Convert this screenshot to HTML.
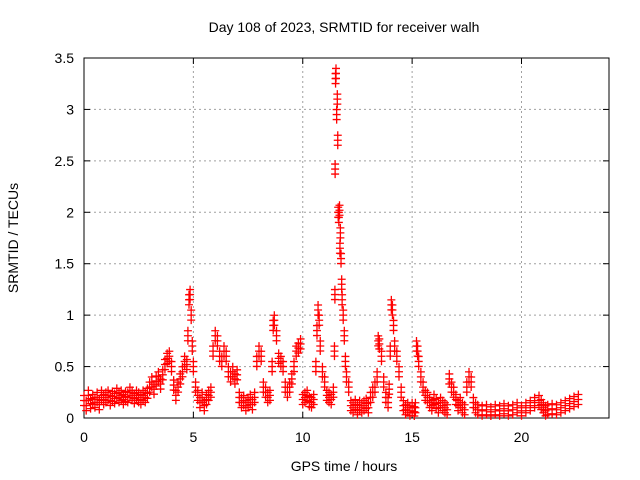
<!DOCTYPE html>
<html><head><meta charset="utf-8"><style>
body{margin:0;background:#fff}
svg{display:block;font-family:"Liberation Sans",sans-serif}
</style></head><body>
<svg id="chart" width="640" height="480">
<text x="344" y="32" font-size="14" text-anchor="middle">Day 108 of 2023, SRMTID for receiver walh</text>
<g id="grid"></g>
<rect x="84" y="58" width="525" height="360" fill="none" stroke="#000"/>
<g id="ticks"></g>
<g id="marks"></g>
<text x="344" y="471" font-size="14" text-anchor="middle">GPS time / hours</text>
<text x="18" y="238" font-size="14" text-anchor="middle" transform="rotate(-90 18 238)">SRMTID / TECUs</text>
</svg>
<script>
const xTicks=[0,5,10,15,20];
const yTicks=[0,0.5,1,1.5,2,2.5,3,3.5];
const yTickLabels=["0","0.5","1","1.5","2","2.5","3","3.5"];
const times=[0,0.1,0.2,0.3,0.4,0.5,0.6,0.7,0.8,0.9,1.0,1.1,1.2,1.3,1.4,1.5,1.6,1.7,1.8,1.9,2.0,2.1,2.2,2.3,2.4,2.5,2.6,2.7,2.8,2.9,3.0,3.1,3.2,3.3,3.4,3.5,3.6,3.7,3.8,3.9,4.0,4.1,4.2,4.3,4.4,4.5,4.6,4.7,4.75,4.8,4.85,4.9,4.95,5.0,5.1,5.2,5.3,5.4,5.5,5.6,5.7,5.8,5.9,6.0,6.1,6.2,6.3,6.4,6.5,6.6,6.7,6.8,6.9,7.0,7.1,7.2,7.3,7.4,7.5,7.6,7.7,7.8,7.9,8.0,8.1,8.2,8.3,8.4,8.5,8.6,8.65,8.7,8.8,8.9,9.0,9.1,9.2,9.3,9.4,9.5,9.6,9.7,9.8,9.9,10.0,10.1,10.2,10.3,10.4,10.5,10.6,10.65,10.7,10.75,10.8,10.9,11.0,11.1,11.2,11.3,11.4,11.45,11.47,11.48,11.5,11.52,11.55,11.58,11.6,11.62,11.65,11.68,11.7,11.72,11.75,11.78,11.8,11.85,11.9,11.95,12.0,12.1,12.2,12.3,12.4,12.5,12.6,12.7,12.8,12.9,13.0,13.1,13.2,13.3,13.4,13.45,13.5,13.6,13.7,13.8,13.9,13.95,14.0,14.05,14.1,14.15,14.2,14.3,14.4,14.5,14.6,14.7,14.8,14.9,15.0,15.1,15.15,15.2,15.25,15.3,15.4,15.5,15.6,15.7,15.8,15.9,16.0,16.1,16.2,16.3,16.4,16.5,16.6,16.7,16.8,16.9,17.0,17.1,17.2,17.3,17.4,17.5,17.6,17.7,17.8,17.9,18.0,18.2,18.4,18.6,18.8,19.0,19.2,19.4,19.6,19.8,20.0,20.2,20.4,20.6,20.8,20.9,21.0,21.1,21.2,21.4,21.6,21.8,22.0,22.2,22.4,22.6,22.8];
const srmtid=[0.17,0.12,0.22,0.14,0.18,0.15,0.2,0.13,0.22,0.18,0.2,0.22,0.17,0.21,0.19,0.24,0.2,0.22,0.18,0.21,0.2,0.25,0.22,0.19,0.22,0.2,0.18,0.22,0.2,0.24,0.3,0.35,0.28,0.36,0.4,0.33,0.42,0.52,0.58,0.6,0.5,0.32,0.22,0.3,0.38,0.45,0.55,0.52,0.8,1.15,1.2,1.0,0.7,0.5,0.3,0.22,0.15,0.2,0.12,0.18,0.22,0.25,0.65,0.8,0.75,0.6,0.55,0.65,0.6,0.45,0.4,0.45,0.38,0.42,0.2,0.15,0.17,0.12,0.15,0.18,0.13,0.2,0.55,0.65,0.6,0.3,0.25,0.2,0.22,0.5,0.9,0.95,0.8,0.58,0.55,0.5,0.3,0.25,0.3,0.38,0.5,0.65,0.68,0.72,0.18,0.2,0.22,0.16,0.15,0.18,0.5,0.85,1.05,0.95,0.7,0.45,0.35,0.22,0.2,0.18,0.25,0.65,1.2,2.42,3.3,3.35,2.95,3.1,2.7,2.0,1.95,2.02,1.65,1.8,1.55,1.3,1.15,1.0,0.8,0.55,0.4,0.3,0.12,0.1,0.13,0.08,0.12,0.1,0.12,0.14,0.1,0.2,0.25,0.3,0.4,0.75,0.72,0.6,0.35,0.2,0.15,0.28,0.65,1.1,1.05,0.9,0.7,0.6,0.45,0.25,0.12,0.08,0.1,0.07,0.1,0.06,0.1,0.7,0.65,0.55,0.4,0.3,0.22,0.2,0.15,0.12,0.18,0.14,0.1,0.15,0.12,0.1,0.08,0.38,0.3,0.25,0.18,0.12,0.15,0.1,0.08,0.3,0.4,0.35,0.15,0.1,0.08,0.07,0.08,0.06,0.08,0.07,0.09,0.07,0.08,0.1,0.07,0.1,0.12,0.15,0.17,0.13,0.1,0.07,0.08,0.09,0.08,0.1,0.12,0.14,0.16,0.18];
const x0=84,x1=609,y0=418,y1=58,xMax=24,yMax=3.5;
const xs=t=>x0+(x1-x0)*t/xMax;
const ys=v=>y0-(y0-y1)*v/yMax;
const NS="http://www.w3.org/2000/svg";
function mk(tag,attrs,parent){const e=document.createElementNS(NS,tag);for(const k in attrs)e.setAttribute(k,attrs[k]);parent.appendChild(e);return e;}
const grid=document.getElementById('grid'),ticks=document.getElementById('ticks'),marks=document.getElementById('marks');
xTicks.forEach((t,i)=>{
  const X=xs(t);
  if(i>0){const g=mk('line',{x1:X,y1:y0,x2:X,y2:y1,stroke:'#a0a0a0','stroke-dasharray':'2,3'},grid);
  
  }
  mk('line',{x1:X,y1:y0,x2:X,y2:y0-6,stroke:'#000'},ticks);
  mk('line',{x1:X,y1:y1,x2:X,y2:y1+6,stroke:'#000'},ticks);
  const l=mk('text',{x:X,y:y0+24,'font-size':14,'text-anchor':'middle'},ticks);l.textContent=t;
  
  
});
yTicks.forEach((v,i)=>{
  const Y=ys(v);
  if(i>0&&i<yTicks.length-1){const g=mk('line',{x1:x0,y1:Y,x2:x1,y2:Y,stroke:'#a0a0a0','stroke-dasharray':'2,3'},grid);
  
  }
  mk('line',{x1:x0,y1:Y,x2:x0+6,y2:Y,stroke:'#000'},ticks);
  mk('line',{x1:x1,y1:Y,x2:x1-6,y2:Y,stroke:'#000'},ticks);
  const l=mk('text',{x:x0-10,y:Y+5,'font-size':14,'text-anchor':'end'},ticks);l.textContent=yTickLabels[i];
  
  
});
times.forEach((t,i)=>{
  const X=xs(t),Y=ys(srmtid[i]);
  // each sample drawn as a small vertical cluster of + markers (marker style)
  let d='';
  [-5,0,5].forEach(o=>{const yy=Math.min(y0-2,Y+o);d+=`M${X-4},${yy}h8M${X},${yy-4}v8`;});
  const p=mk('path',{d:d,stroke:'#ff0000','stroke-width':1.3,fill:'none'},marks);
  
  
});
</script>
</body></html>
